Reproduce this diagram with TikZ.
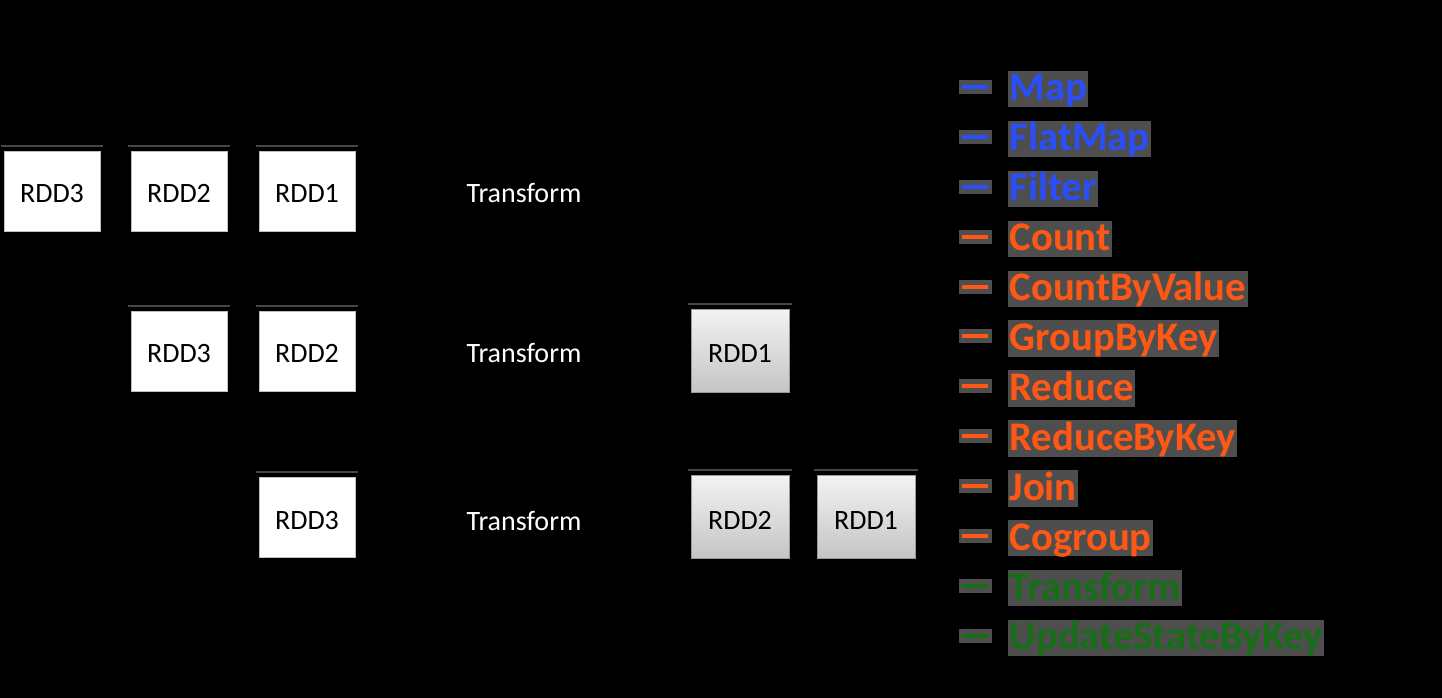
\documentclass[tikz,border=0pt]{standalone}
\usepackage{fontspec}
\setmainfont{Carlito}
\usetikzlibrary{positioning}

\definecolor{mapblue}{RGB}{42,78,250}
\definecolor{redorange}{RGB}{255,88,20}
\definecolor{stategreen}{RGB}{22,110,22}
\definecolor{halo}{RGB}{78,78,78}

\tikzset{
  rdd/.style={fill=white, draw=black!25, line width=0.5pt, minimum width=72pt, minimum height=60pt, inner sep=0pt, text height=18pt, text depth=0pt, font=\fontsize{21}{25}\selectfont},
  grdd/.style={top color=black!5, bottom color=black!23, draw=black!40, line width=0.5pt, minimum width=73.5pt, minimum height=62pt, inner sep=0pt, text height=18pt, text depth=0pt, font=\fontsize{21}{25}\selectfont},
  topline/.style={draw=black!72, line width=1.5pt},
  tf/.style={text=white, anchor=base, inner sep=0pt, font=\fontsize{21}{25}\selectfont},
  dashbox/.style={fill=halo, minimum width=24.75pt, minimum height=10.5pt, inner sep=0pt},
  opname/.style={fill=halo, inner xsep=1pt, inner ysep=0.75pt, text height=21.75pt, text depth=4pt, anchor=base west, font=\fontsize{30.5}{36}\selectfont\bfseries}
}

\begin{document}
\begin{tikzpicture}[x=0.75pt,y=-0.75pt]
\def\ya{191}
\def\yb{351}
\def\yc{517}

\def\xa{52}
\def\xb{179}
\def\xc{307}
\def\xt{524}
\def\xg{740}
\def\xh{866}

\fill[black] (0,0) rectangle (1442,698);
\useasboundingbox (0,0) rectangle (1442,698);

% queue of batches
\node[rdd] (w3a) at (\xa,\ya) {RDD3};
\node[rdd] (w2a) at (\xb,\ya) {RDD2};
\node[rdd] (w1a) at (\xc,\ya) {RDD1};

\node[rdd] (w3b) at (\xb,\yb) {RDD3};
\node[rdd] (w2b) at (\xc,\yb) {RDD2};

\node[rdd] (w3c) at (\xc,\yc) {RDD3};

\node[tf] (tfa) at (\xt,\ya+12) {Transform};
\node[tf] (tfb) at (\xt,\yb+12) {Transform};
\node[tf] (tfc) at (\xt,\yc+13) {Transform};

% transformed batches
\node[grdd] (g1b) at (\xg,\yb) {RDD1};
\node[grdd] (g2c) at (\xg,\yc) {RDD2};
\node[grdd] (g1c) at (\xh,\yc) {RDD1};

\foreach \n in {w3a,w2a,w1a,w3b,w2b,w3c,g1b,g2c,g1c}
  \draw[topline] ([shift={(-3,-5)}]\n.north west) -- ([shift={(3,-5)}]\n.north east);

% operations
\foreach \op/\col [count=\i] in {Map/mapblue, FlatMap/mapblue, Filter/mapblue,
    Count/redorange, CountByValue/redorange, GroupByKey/redorange, Reduce/redorange,
    ReduceByKey/redorange, Join/redorange, Cogroup/redorange,
    Transform/stategreen, UpdateStateByKey/stategreen}
{
  \pgfmathsetmacro\yy{87+49.9*(\i-1)}
  \node[dashbox] (d\i) at (975,\yy) {\textcolor{\col}{\rule{19.5pt}{3pt}}};
  \node[opname, text=\col] (o\i) at (1008,\yy+14) {\op};
}

\end{tikzpicture}
\end{document}
